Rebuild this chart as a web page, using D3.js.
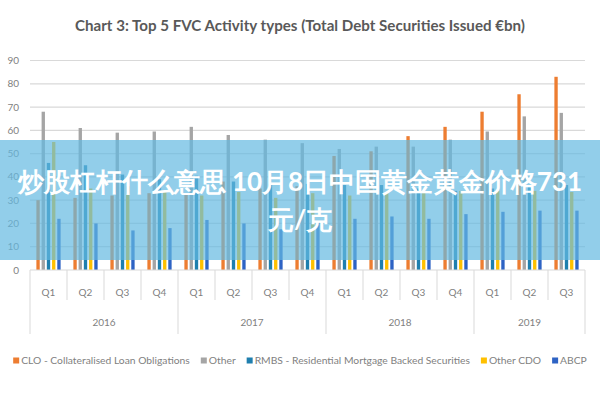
<!DOCTYPE html>
<html>
<head>
<meta charset="utf-8">
<script src="https://cdn.jsdelivr.net/npm/d3@7"></script>
<style>
  body { margin: 0; background: #fff; }
  text { font-family: "Lato", "Liberation Sans", sans-serif; }
</style>
</head>
<body>
<svg id="chart" width="600" height="400"></svg>
<script>
// DATA
const categories = ["2016 Q1", "2016 Q2", "2016 Q3", "2016 Q4",
    "2017 Q1", "2017 Q2", "2017 Q3", "2017 Q4",
    "2018 Q1", "2018 Q2", "2018 Q3", "2018 Q4",
    "2019 Q1", "2019 Q2", "2019 Q3"];
const seriesNames = ["CLO - Collateralised Loan Obligations", "Other",
    "RMBS - Residential Mortgage Backed Securities", "Other CDO", "ABCP"];
const clo = [30, 31, 32, 33, 33, 38, 35, 36, 49, 51, 57.5, 61.5, 68, 75.5, 83];
const other = [68, 61, 59, 59.5, 61.5, 58, 56, 54.5, 52, 53, 53, 56, 59.5, 66, 67.5];
const rmbs = [46, 45, 41, 39, 40.5, 38, 37, 37, 36.5, 36.5, 35, 34, 35, 36, 36.5];
const otherCdo = [55, 35, 36, 34, 32, 33.5, 31, 33, 32, 33, 34, 34, 34, 34, 33.5];
const abcp = [22, 20, 17, 18, 21.5, 20, 17.5, 21, 22, 23, 22, 24, 25, 25.5, 25.5];
const yTicks = [0, 10, 20, 30, 40, 50, 60, 70, 80, 90];
const title = "Chart 3: Top 5 FVC Activity types (Total Debt Securities Issued €bn)";
const bannerLines = ["炒股杠杆什么意思 10月8日中国黄金黄金价格731", "元/克"];

const colors = ["#ed7d31", "#a5a5a5", "#1f7fae", "#ffc000", "#2e63c4"];
const allSeries = [clo, other, rmbs, otherCdo, abcp];

// SETUP
const svg = d3.select("#chart");
const margin = {left: 30, right: 15, top: 60.5, bottom: 130};
const width = 600 - margin.left - margin.right,
    height = 400 - margin.top - margin.bottom;

const x = d3.scaleBand().domain(categories).range([0, width]).padding(0);
const xInner = d3.scaleBand().domain(d3.range(seriesNames.length))
    .range([4.5, x.bandwidth() - 4.5]).padding(0.36);
const y = d3.scaleLinear().domain([0, 90]).range([height, 0]);

const g = svg.append("g")
    .attr("transform", "translate(" + margin.left + "," + margin.top + ")");

// title
svg.append("text")
    .attr("x", 300).attr("y", 31)
    .attr("text-anchor", "middle")
    .attr("font-size", 15)
    .attr("font-weight", "bold")
    .attr("fill", "#595959")
    .attr("textLength", 450)
    .attr("lengthAdjust", "spacingAndGlyphs")
    .text(title);

// gridlines + y labels
g.selectAll(".grid")
    .data(yTicks.filter(d => d > 0))
    .enter().append("line")
    .attr("class", "grid")
    .attr("x1", 0).attr("x2", width)
    .attr("y1", d => y(d)).attr("y2", d => y(d))
    .attr("stroke", "#d9d9d9").attr("stroke-width", 1.2);

g.selectAll(".ylab")
    .data(yTicks)
    .enter().append("text")
    .attr("class", "ylab")
    .attr("x", -11).attr("y", d => y(d) + 3.5)
    .attr("text-anchor", "end")
    .attr("font-size", 10)
    .attr("fill", "#7f7f7f")
    .text(d => d);

// bars
const groups = g.selectAll(".cat")
    .data(categories)
    .enter().append("g")
    .attr("class", "cat")
    .attr("transform", d => "translate(" + x(d) + ",0)");

groups.selectAll("rect")
    .data((d, i) => allSeries.map((s, k) => ({k: k, v: s[i]})))
    .enter().append("rect")
    .attr("x", d => xInner(d.k))
    .attr("width", xInner.bandwidth())
    .attr("y", d => y(d.v))
    .attr("height", d => height - y(d.v))
    .attr("fill", d => colors[d.k]);

// x axis (two levels)
g.append("line")
    .attr("x1", 0).attr("x2", width)
    .attr("y1", height).attr("y2", height)
    .attr("stroke", "#d9d9d9");

const yearOf = c => c.split(" ")[0];
const boundaries = categories.map((c, i) => ({
    pos: x(c),
    long: i === 0 || yearOf(c) !== yearOf(categories[i - 1])
}));
boundaries.push({pos: width, long: true});

g.selectAll(".xtick")
    .data(boundaries)
    .enter().append("line")
    .attr("x1", d => d.pos).attr("x2", d => d.pos)
    .attr("y1", height).attr("y2", d => d.long ? height + 64 : height + 30)
    .attr("stroke", "#d9d9d9");

g.selectAll(".qlab")
    .data(categories)
    .enter().append("text")
    .attr("x", d => x(d) + x.bandwidth() / 2)
    .attr("y", height + 26)
    .attr("text-anchor", "middle")
    .attr("font-size", 10)
    .attr("fill", "#7f7f7f")
    .text(d => d.split(" ")[1]);

const years = Array.from(new Set(categories.map(yearOf)));
g.selectAll(".yrlab")
    .data(years)
    .enter().append("text")
    .attr("x", yr => {
        const cs = categories.filter(c => yearOf(c) === yr);
        return (x(cs[0]) + x(cs[cs.length - 1]) + x.bandwidth()) / 2;
    })
    .attr("y", height + 56)
    .attr("text-anchor", "middle")
    .attr("font-size", 10)
    .attr("fill", "#7f7f7f")
    .text(d => d);

// legend
const legend = svg.append("g");
let lx = 0;
seriesNames.forEach((name, i) => {
    const item = legend.append("g").attr("transform", "translate(" + lx + ",0)");
    item.append("rect").attr("x", 0).attr("y", -6.5).attr("width", 6).attr("height", 6)
        .attr("fill", colors[i]);
    const t = item.append("text").attr("x", 8).attr("y", 0)
        .attr("font-size", 10.3).attr("fill", "#7f7f7f").text(name);
    lx += 8 + t.node().getComputedTextLength() + 11;
});
legend.attr("transform", "translate(" + ((600 - (lx - 11)) / 2) + ",364)");

// banner overlay
svg.append("rect")
    .attr("x", 0).attr("y", 140).attr("width", 600).attr("height", 120)
    .attr("fill", "rgba(100,185,225,0.7)");

svg.selectAll(".banner")
    .data(bannerLines)
    .enter().append("text")
    .attr("x", 300).attr("y", (d, i) => 191 + i * 38)
    .attr("text-anchor", "middle")
    .attr("font-family", "'Noto Sans CJK SC', sans-serif")
    .attr("font-size", 26)
    .attr("font-weight", "bold")
    .attr("fill", "#fff")
    .each(function (d, i) {
        if (i === 0) d3.select(this).attr("textLength", 564).attr("lengthAdjust", "spacing");
    })
    .text(d => d);
</script>
</body>
</html>
